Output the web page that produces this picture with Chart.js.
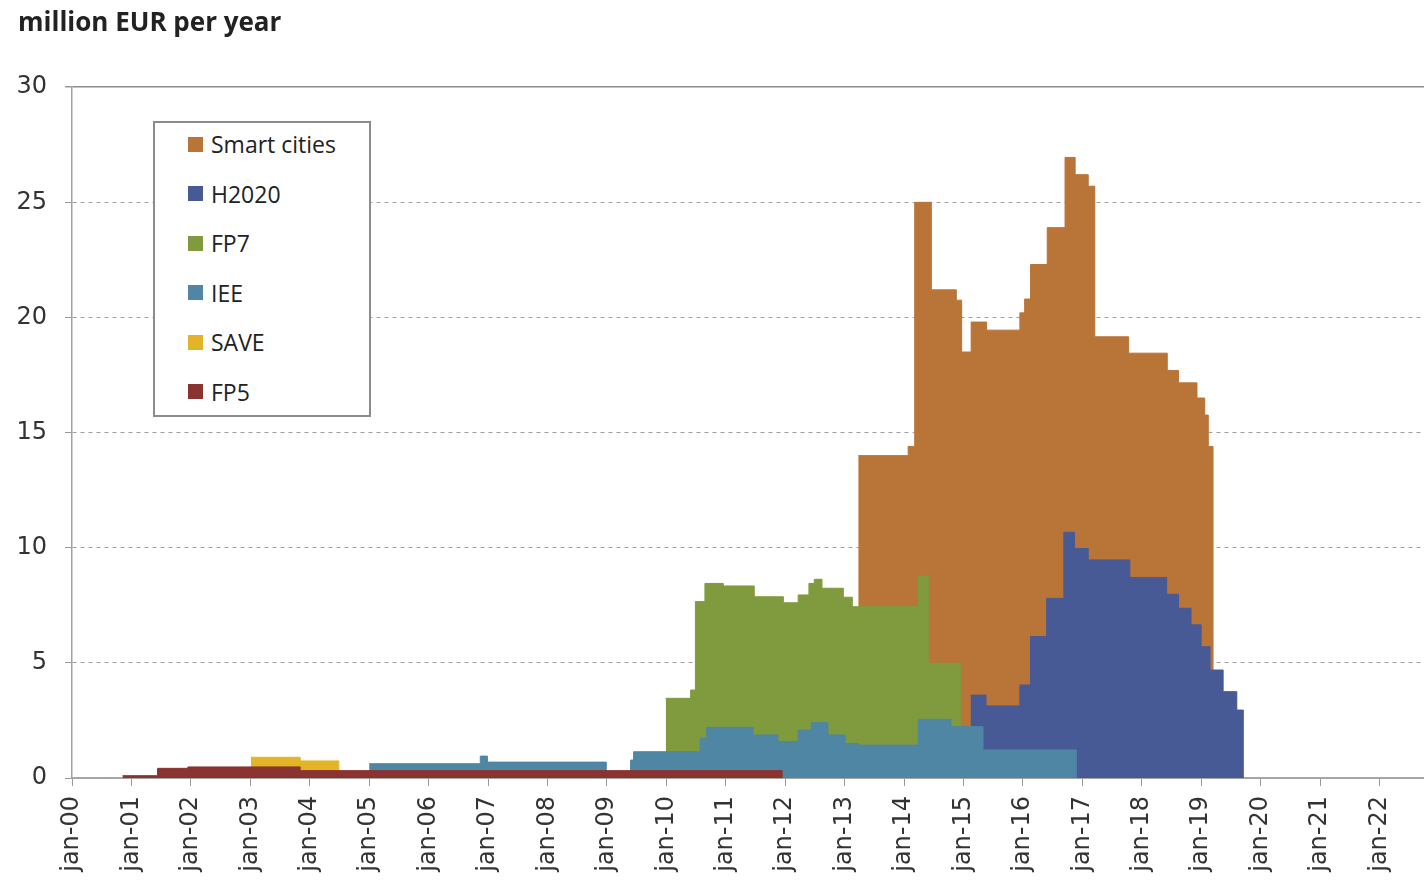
<!DOCTYPE html>
<html>
<head>
<meta charset="utf-8">
<script src="https://cdn.jsdelivr.net/npm/chart.js@4.4.0/dist/chart.umd.min.js"></script>
<style>
  html, body { margin: 0; padding: 0; background: #fff; }
  #wrap { position: relative; width: 1424px; height: 884px; }
  #legend {
    position: absolute; left: 153px; top: 121px; width: 214px; height: 292px;
    border: 2px solid #8c8c8c; background: #fff;
    font-family: 'Open Sans', sans-serif; font-size: 23px; color: #222;
  }
  .item { position: absolute; left: 33px; height: 30px; display: flex; align-items: center; white-space: nowrap; }
  .sw { width: 15px; height: 15px; margin-right: 8px; }
</style>
</head>
<body>
<div id="wrap">
  <canvas id="chart" width="1424" height="884"></canvas>
  <div id="legend"></div>
</div>
<script>
// x = years since jan-2000, y = million EUR per year (step starts)
const yearLabels = ['jan-00','jan-01','jan-02','jan-03','jan-04','jan-05','jan-06','jan-07',
  'jan-08','jan-09','jan-10','jan-11','jan-12','jan-13','jan-14','jan-15','jan-16','jan-17',
  'jan-18','jan-19','jan-20','jan-21','jan-22'];

const smartCities = [[13.23,14.0],[14.07,14.4],[14.18,25.0],[14.46,21.2],[14.88,20.75],[14.97,18.5],
  [15.13,19.8],[15.39,19.45],[15.95,20.2],[16.03,20.8],[16.13,22.3],[16.41,23.9],[16.71,26.95],
  [16.88,26.2],[17.10,25.7],[17.21,19.16],[17.78,18.45],[18.43,17.7],[18.62,17.16],[18.93,16.5],
  [19.06,15.76],[19.12,14.4],[19.20,0]];
const h2020 = [[15.12,3.6],[15.38,3.13],[15.95,4.04],[16.13,6.14],[16.40,7.8],[16.69,10.67],
  [16.87,9.97],[17.10,9.47],[17.80,8.71],[18.42,7.98],[18.62,7.37],[18.83,6.65],[19.00,5.7],
  [19.15,4.69],[19.37,3.75],[19.60,2.95],[19.71,0]];
const fp7 = [[9.99,3.46],[10.41,3.82],[10.49,7.66],[10.65,8.45],[10.96,8.34],[11.48,7.87],
  [11.97,7.61],[12.22,7.95],[12.40,8.45],[12.49,8.63],[12.62,8.24],[12.98,7.85],[13.13,7.44],
  [14.24,8.77],[14.41,4.98],[14.95,0]];
const iee = [[5.00,0.62],[6.87,0.95],[6.99,0.69],[8.99,0],[9.40,0.78],[9.45,1.14],[10.57,1.72],
  [10.68,2.2],[11.46,1.87],[11.88,1.58],[12.22,2.08],[12.44,2.4],[12.72,1.87],[13.01,1.5],
  [13.23,1.43],[14.24,2.55],[14.79,2.23],[15.33,1.22],[16.90,0]];
const save = [[3.01,0.9],[3.84,0.74],[4.49,0]];
const fp5 = [[0.85,0.1],[1.44,0.42],[1.95,0.48],[3.84,0.32],[11.95,0]];

const seriesNames = ['Smart cities', 'H2020', 'FP7', 'IEE', 'SAVE', 'FP5'];
const seriesData = [smartCities, h2020, fp7, iee, save, fp5];
const seriesColors = ['#B97438', '#485A96', '#809A3E', '#4E86A3', '#E4B428', '#8B3330'];

const datasets = seriesNames.map((name, i) => ({
  label: name,
  data: seriesData[i].map(p => ({ x: p[0], y: p[1] })),
  stepped: true,
  fill: 'origin',
  backgroundColor: seriesColors[i],
  borderColor: seriesColors[i],
  borderWidth: 1,
  pointRadius: 0,
  order: seriesNames.length - i   // first in legend is drawn at the back
}));

const chart = new Chart(document.getElementById('chart'), {
  type: 'line',
  data: { datasets: datasets },
  options: {
    responsive: false,
    animation: false,
    layout: { padding: { left: 18, right: 0, top: 0, bottom: 0 } },
    plugins: {
      legend: { display: false },
      tooltip: { enabled: false },
      title: {
        display: true,
        text: 'million EUR per year',
        align: 'start',
        color: '#222',
        font: { family: 'Open Sans', size: 26, weight: 'bold' },
        padding: { top: 8, bottom: 48 }
      }
    },
    scales: {
      x: {
        type: 'linear',
        min: 0,
        max: 22.75,
        afterFit: (s) => { s.height = 106; },
        grid: { drawOnChartArea: false, drawTicks: true, tickLength: 8, tickColor: '#9a9a9a' },
        border: { color: '#a8a8a8', width: 1.5 },
        ticks: {
          stepSize: 1,
          includeBounds: false,
          autoSkip: false,
          minRotation: 90,
          maxRotation: 90,
          padding: 10,
          color: '#333',
          font: { family: 'DejaVu Sans', size: 24 },
          callback: (v) => yearLabels[Math.round(v)]
        }
      },
      y: {
        min: 0,
        max: 30,
        afterFit: (s) => { s.width = 54; },
        grid: {
          color: (c) => (c.tick && c.tick.value === 30) ? '#8c8c8c' : '#a0a0a0',
          lineWidth: (c) => (c.tick && c.tick.value === 30) ? 1.5 : 1,
          tickLength: 7,
          tickColor: '#9a9a9a'
        },
        border: {
          color: '#a0a0a0',
          width: 1.5,
          dash: (c) => (c.tick && (c.tick.value === 30 || c.tick.value === 0)) ? [] : [4, 4]
        },
        ticks: { stepSize: 5, padding: 18, color: '#333', font: { family: 'DejaVu Sans', size: 24 } }
      }
    }
  }
});

// legend box built from the chart's datasets
const legendEl = document.getElementById('legend');
chart.data.datasets.forEach((ds, i) => {
  const item = document.createElement('div');
  item.className = 'item';
  item.style.top = (24 + i * 49.5 - 18) + 'px';
  const sw = document.createElement('span');
  sw.className = 'sw';
  sw.style.background = ds.backgroundColor;
  const txt = document.createElement('span');
  txt.textContent = ds.label;
  item.appendChild(sw);
  item.appendChild(txt);
  legendEl.appendChild(item);
});
</script>
</body>
</html>
